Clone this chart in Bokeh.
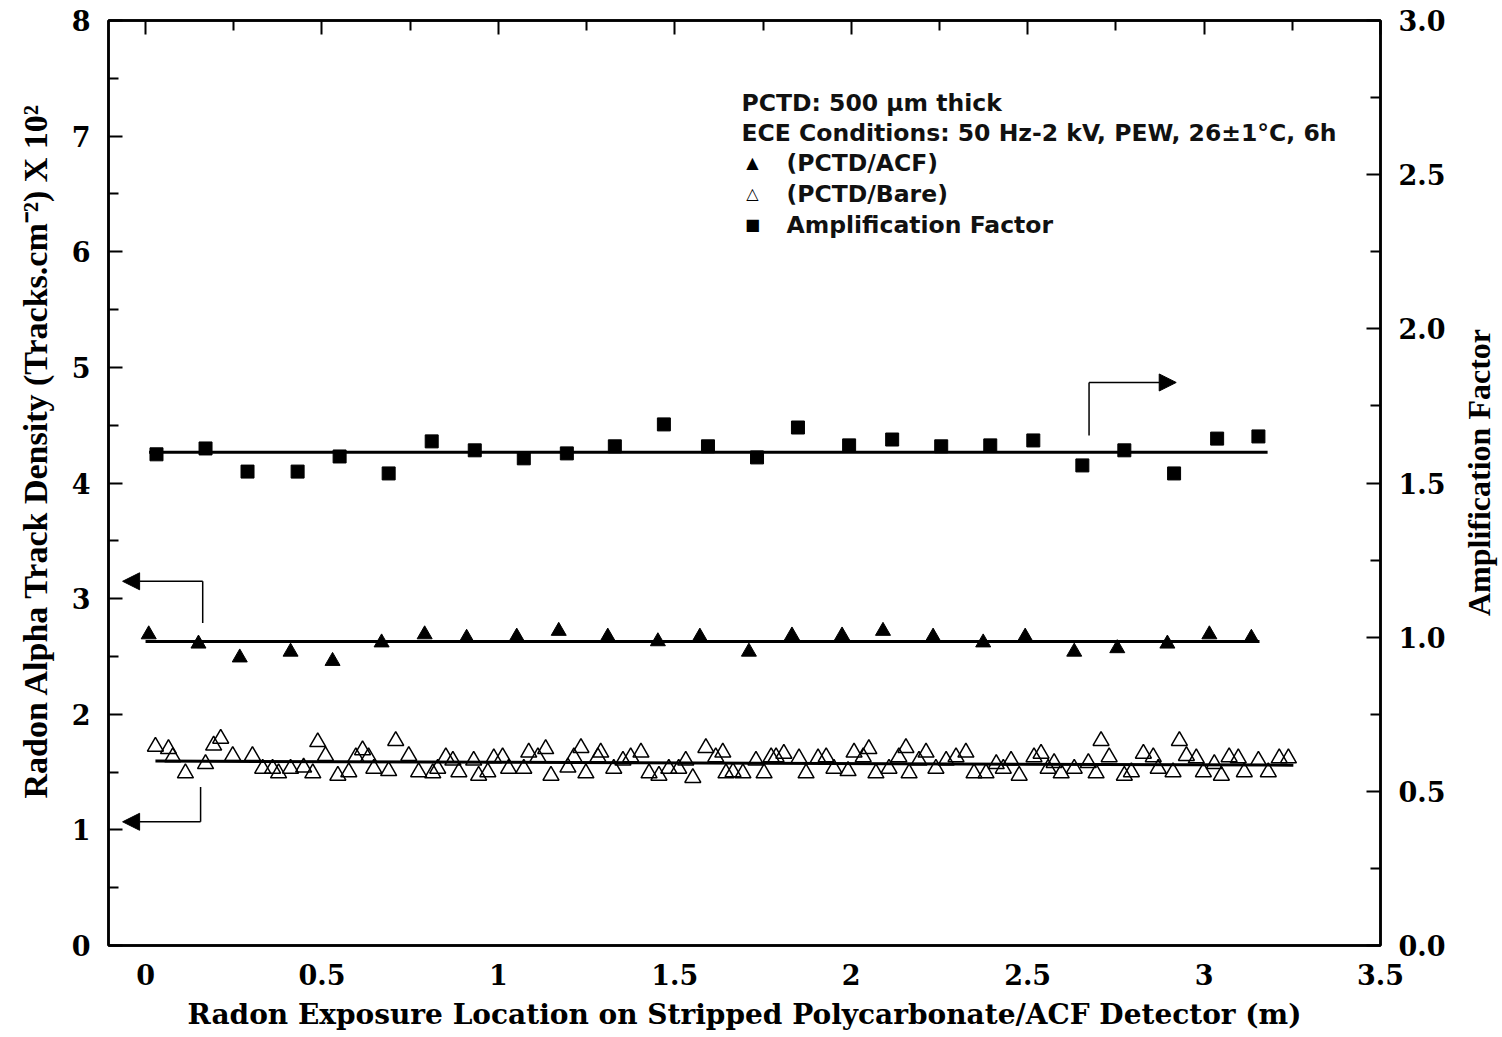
import math
from bokeh.plotting import figure
from bokeh.layouts import row
from bokeh.models import (Range1d, LinearAxis, FixedTicker, Arrow, NormalHead,
                          Label, ColumnDataSource, CustomLabelingPolicy)
from bokeh.embed import file_html
from bokeh.resources import INLINE

# ---------------- data ----------------
acf_x = [0.009, 0.150, 0.267, 0.411, 0.530, 0.669, 0.791, 0.910, 1.052, 1.171,
         1.310, 1.452, 1.571, 1.710, 1.832, 1.974, 2.090, 2.232, 2.374, 2.493,
         2.632, 2.754, 2.896, 3.015, 3.134]
acf_y = [2.69, 2.61, 2.49, 2.54, 2.46, 2.62, 2.69, 2.66, 2.67, 2.72,
         2.67, 2.63, 2.67, 2.54, 2.68, 2.68, 2.72, 2.67, 2.62, 2.67,
         2.54, 2.57, 2.61, 2.69, 2.66]

amp_x = [0.031, 0.170, 0.289, 0.431, 0.550, 0.689, 0.811, 0.933, 1.072, 1.194,
         1.330, 1.469, 1.594, 1.733, 1.849, 1.994, 2.116, 2.255, 2.394, 2.516,
         2.655, 2.774, 2.915, 3.037, 3.154]
amp_y = [1.593, 1.612, 1.537, 1.537, 1.586, 1.531, 1.635, 1.606, 1.580, 1.596,
         1.619, 1.690, 1.619, 1.583, 1.680, 1.622, 1.641, 1.619, 1.622, 1.638,
         1.557, 1.606, 1.531, 1.644, 1.651]

bare_x = [0.028, 0.065, 0.077, 0.113, 0.170, 0.193, 0.213, 0.247, 0.303, 0.332,
          0.360, 0.377, 0.411, 0.448, 0.474, 0.488, 0.510, 0.545, 0.576, 0.596,
          0.615, 0.632, 0.647, 0.689, 0.709, 0.746, 0.774, 0.814,
          0.828, 0.851, 0.871, 0.888, 0.930, 0.944, 0.970, 0.987, 1.012, 1.029,
          1.072, 1.086, 1.112, 1.134, 1.149, 1.197, 1.214, 1.234, 1.248, 1.282,
          1.290, 1.327, 1.353, 1.375, 1.404, 1.427, 1.455, 1.483, 1.511, 1.531,
          1.551, 1.588, 1.616, 1.636, 1.645,
          1.665, 1.693, 1.730, 1.753, 1.773, 1.787, 1.809, 1.852, 1.872, 1.906,
          1.929, 1.951, 1.991, 2.008, 2.034, 2.050, 2.070, 2.107, 2.135, 2.155,
          2.164, 2.192, 2.212, 2.240, 2.269, 2.297, 2.325, 2.348, 2.382, 2.411,
          2.431, 2.453, 2.476,
          2.518, 2.538, 2.558, 2.575, 2.595, 2.632, 2.672, 2.694, 2.708, 2.731,
          2.774, 2.794, 2.828, 2.856, 2.870, 2.912, 2.930, 2.950, 2.978, 2.998,
          3.029, 3.049, 3.071, 3.097, 3.114, 3.154, 3.182, 3.213, 3.239]
bare_y = [1.72, 1.70, 1.63, 1.49, 1.57, 1.73, 1.79, 1.64, 1.64, 1.53,
          1.53, 1.49, 1.53, 1.54, 1.49, 1.76, 1.64, 1.47, 1.50, 1.63,
          1.69, 1.63, 1.53, 1.51, 1.77, 1.64, 1.50, 1.49,
          1.53, 1.63, 1.60, 1.50, 1.60, 1.47, 1.50, 1.62, 1.63, 1.53,
          1.53, 1.67, 1.63, 1.70, 1.47, 1.54, 1.63, 1.71, 1.49, 1.63,
          1.67, 1.53, 1.60, 1.63, 1.67, 1.49, 1.47, 1.53, 1.53, 1.60,
          1.45, 1.71, 1.63, 1.67, 1.49,
          1.50, 1.49, 1.60, 1.49, 1.63, 1.63, 1.66, 1.62, 1.49, 1.62,
          1.63, 1.53, 1.51, 1.67, 1.63, 1.70, 1.49, 1.53, 1.63, 1.71,
          1.49, 1.60, 1.67, 1.53, 1.60, 1.63, 1.67, 1.49, 1.49, 1.57,
          1.53, 1.60, 1.47,
          1.63, 1.66, 1.53, 1.58, 1.49, 1.53, 1.58, 1.49, 1.77, 1.63,
          1.47, 1.50, 1.66, 1.63, 1.53, 1.50, 1.77, 1.64, 1.62, 1.50,
          1.57, 1.47, 1.63, 1.62, 1.50, 1.60, 1.50, 1.62, 1.62]

# fitted lines
acf_fit_x = [0.0, 3.157]
acf_fit_y = [2.63, 2.63]
amp_fit_x = [0.01, 3.18]
amp_fit_y = [1.60, 1.60]
bare_fit_x = [0.028, 3.253]
bare_fit_y = [1.595, 1.56]

# axes
x_ticks = [0, 0.5, 1, 1.5, 2, 2.5, 3, 3.5]
x_tick_labels = ["0", "0.5", "1", "1.5", "2", "2.5", "3", "3.5"]
left_ticks = [0, 1, 2, 3, 4, 5, 6, 7, 8]
right_ticks = [0.0, 0.5, 1.0, 1.5, 2.0, 2.5, 3.0]
right_tick_labels = ["0.0", "0.5", "1.0", "1.5", "2.0", "2.5", "3.0"]

x_title = "Radon Exposure Location on Stripped Polycarbonate/ACF Detector (m)"
left_title = "Radon Alpha Track Density (Tracks.cm\u207b\u00b2) X 10\u00b2"
right_title = "Amplification Factor"

legend_header = ["PCTD: 500 \u00b5m thick",
                 "ECE Conditions: 50 Hz-2 kV, PEW, 26\u00b11\u00b0C, 6h"]
legend_symbols = ["\u25b2", "\u25b3", "\u25a0"]
legend_labels = ["(PCTD/ACF)", "(PCTD/Bare)", "Amplification Factor"]

# annotation arrows: (vertical start, corner, arrow tip, y-range)
arrows = [
    dict(x0=2.674, y0=1.654, xc=2.674, yc=1.826, x1=2.921, rng="amp"),
    dict(x0=0.162, y0=2.79, xc=0.162, yc=3.15, x1=-0.065, rng="default"),
    dict(x0=0.156, y0=1.37, xc=0.156, yc=1.07, x1=-0.065, rng="default"),
]

# ---------------- layout sizes ----------------
TICK_FONT = "DejaVu Serif"
TITLE_FONT = "Liberation Serif"
NO_LABELS = "return new indices.constructor(indices.size)"
TOTAL_H = 1033          # 20 (top) + 925 (frame) + 88 (bottom)
SIDE_L = 60             # strip holding the left title
SIDE_R = 48             # strip holding the right title

p = figure(frame_width=1272, frame_height=925,
           x_range=Range1d(-0.105, 3.5), y_range=Range1d(0, 8),
           output_backend="svg", toolbar_location=None,
           min_border_left=48, min_border_right=70,
           min_border_top=20, min_border_bottom=88)
p.extra_y_ranges = {"amp": Range1d(0, 3)}
p.grid.visible = False
p.background_fill_color = "white"
p.border_fill_color = "white"
p.outline_line_color = "black"
p.outline_line_width = 2.5

# left axis
ly = p.yaxis[0]
ly.ticker = FixedTicker(ticks=left_ticks,
                        minor_ticks=[t + 0.5 for t in left_ticks[:-1]])

# bottom axis
bx = p.xaxis[0]
bx.ticker = FixedTicker(ticks=x_ticks, minor_ticks=[])
bx.major_label_overrides = {t: s for t, s in zip(x_ticks, x_tick_labels)}
bx.axis_label = x_title

# right axis
ry = LinearAxis(y_range_name="amp")
ry.ticker = FixedTicker(ticks=right_ticks,
                        minor_ticks=[t + 0.25 for t in right_ticks[:-1]])
ry.major_label_overrides = {t: s for t, s in zip(right_ticks, right_tick_labels)}
p.add_layout(ry, "right")

# top axis (ticks only, labels filtered out)
tx = LinearAxis()
tx.ticker = FixedTicker(ticks=x_ticks,
                        minor_ticks=[t + 0.25 for t in x_ticks[:-1]])
tx.major_label_policy = CustomLabelingPolicy(code=NO_LABELS)
p.add_layout(tx, "above")

for ax in [ly, ry, tx]:
    ax.major_tick_in = 14
    ax.major_tick_out = 0
    ax.minor_tick_in = 10
    ax.minor_tick_out = 0
    ax.major_tick_line_width = 2
    ax.minor_tick_line_width = 2
bx.major_tick_in = 0
bx.major_tick_out = 0
bx.minor_tick_in = 0
bx.minor_tick_out = 0

for ax in [ly, ry, bx, tx]:
    ax.axis_line_width = 2.5
    ax.axis_line_color = "black"
    ax.major_label_text_font = TICK_FONT
    ax.major_label_text_font_style = "bold"
    ax.major_label_text_font_size = "27px"
    ax.major_label_text_color = "black"
    ax.major_label_standoff = 18
    ax.axis_label_text_font_style = "bold"
    ax.axis_label_text_color = "black"
tx.major_label_standoff = 0
tx.major_label_text_font_size = "1px"

bx.axis_label_text_font = TICK_FONT
bx.axis_label_text_font_size = "28px"
bx.axis_label_standoff = 10

# ---------------- glyphs ----------------
bare_src = ColumnDataSource(dict(x=bare_x, y=bare_y))
acf_src = ColumnDataSource(dict(x=acf_x, y=acf_y))
amp_src = ColumnDataSource(dict(x=amp_x, y=amp_y))

p.scatter("x", "y", source=bare_src, marker="triangle", size=16,
          fill_color="white", fill_alpha=0.0, line_color="black", line_width=1.5)
p.line(bare_fit_x, bare_fit_y, line_color="black", line_width=3)

p.line(acf_fit_x, acf_fit_y, line_color="black", line_width=3)
p.scatter("x", "y", source=acf_src, marker="triangle", size=15,
          fill_color="black", line_color="black")

p.line(amp_fit_x, amp_fit_y, line_color="black", line_width=3,
       y_range_name="amp")
p.scatter("x", "y", source=amp_src, marker="square", size=13,
          fill_color="black", line_color="black", y_range_name="amp")

# ---------------- arrows ----------------
for a in arrows:
    rng = a["rng"]
    p.add_layout(Arrow(end=None, x_start=a["x0"], y_start=a["y0"],
                       x_end=a["xc"], y_end=a["yc"], line_width=1.5,
                       line_color="black", y_range_name=rng))
    p.add_layout(Arrow(end=NormalHead(size=17, fill_color="black",
                                      line_color="black", line_width=1),
                       x_start=a["xc"], y_start=a["yc"],
                       x_end=a["x1"], y_end=a["yc"], line_width=1.5,
                       line_color="black", y_range_name=rng))

# ---------------- legend (text block) ----------------
LEG_FONT = "DejaVu Sans"
header_y = [843, 813]
for txt, yy in zip(legend_header, header_y):
    p.add_layout(Label(x=633, y=yy, x_units="screen", y_units="screen",
                       text=txt, text_font=LEG_FONT, text_font_style="bold",
                       text_font_size="23.5px", text_baseline="middle",
                       text_color="#111111"))
item_y = [783, 752, 721]
for sym, txt, yy in zip(legend_symbols, legend_labels, item_y):
    p.add_layout(Label(x=644, y=yy, x_units="screen", y_units="screen",
                       text=sym, text_font="DejaVu Sans",
                       text_font_size="16px", text_baseline="middle",
                       text_align="center", text_color="black"))
    p.add_layout(Label(x=678, y=yy, x_units="screen", y_units="screen",
                       text=txt, text_font=LEG_FONT, text_font_style="bold",
                       text_font_size="23.5px", text_baseline="middle",
                       text_color="#111111"))


# ---------------- vertical axis titles (narrow side strips) ----------------
# (the strips' frames are aligned with the main frame: y measured from its bottom)
def title_strip(width, text, cx, cy, size):
    s = figure(width=width, height=TOTAL_H, output_backend="svg",
               toolbar_location=None, x_axis_location=None,
               y_axis_location=None, min_border=0,
               x_range=Range1d(0, 1), y_range=Range1d(0, 1))
    s.grid.visible = False
    s.outline_line_color = None
    s.background_fill_color = "white"
    s.border_fill_color = "white"
    s.add_layout(Label(x=cx, y=cy, x_units="screen", y_units="screen",
                       text=text, angle=math.pi / 2, angle_units="rad",
                       text_align="center", text_baseline="middle",
                       text_font=TITLE_FONT, text_font_style="bold",
                       text_font_size=size, text_color="black"))
    return s


left_strip = title_strip(SIDE_L, left_title, 35, 495, "34px")
right_strip = title_strip(SIDE_R, right_title, 28, 473, "32px")

layout = row(left_strip, p, right_strip, spacing=0)

open("out.html", "w").write(file_html(layout, INLINE))
